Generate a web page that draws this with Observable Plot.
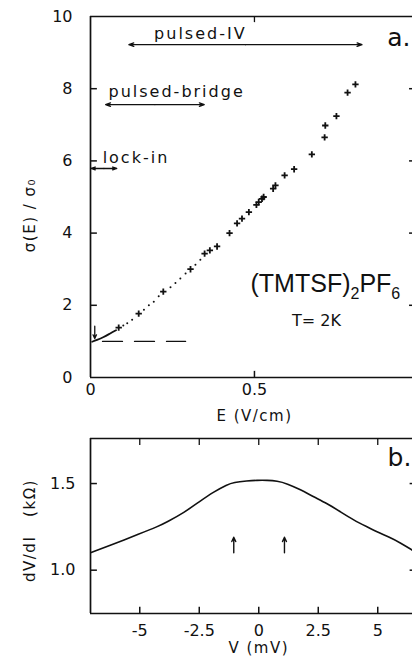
<!DOCTYPE html>
<html><head><meta charset="utf-8">
<script src="https://cdn.jsdelivr.net/npm/d3@7"></script>
<script src="https://cdn.jsdelivr.net/npm/@observablehq/plot@0.6"></script>
<style>
html,body{margin:0;padding:0;background:#fff;}
#chart svg{display:block;}
</style></head><body><div id="chart"></div>
<script>
// ---------- panel a: sigma(E)/sigma0 vs E ----------
const crossE = [0.086,0.147,0.222,0.305,0.348,0.364,0.386,0.424,0.447,0.462,0.483,0.506,0.513,0.523,0.528,0.557,0.564,0.592,0.621,0.675,0.714,0.716,0.750,0.784,0.808];
const crossS = [1.38,1.77,2.38,3.00,3.43,3.52,3.63,4.00,4.27,4.40,4.58,4.78,4.86,4.95,5.00,5.23,5.32,5.60,5.77,6.18,6.65,6.98,7.24,7.89,8.12];
const dotE = [0.100,0.112,0.127,0.163,0.178,0.193,0.208,0.244,0.259,0.274,0.290,0.320,0.335];
const dotS = [1.44,1.50,1.60,1.88,2.00,2.10,2.25,2.50,2.62,2.74,2.88,3.12,3.26];
const onsetE = [0.005,0.02,0.04,0.06,0.078];
const onsetS = [0.99,1.04,1.12,1.22,1.31];
const ohmicE = [0, 0.29];     // dashed sigma = sigma0 line
const ohmicS = [1, 1];
const rangeName = ["pulsed-IV","pulsed-bridge","lock-in"];
const rangeE1 = [0.117,0.046,0.002];
const rangeE2 = [0.828,0.347,0.080];
const rangeS = [9.22,7.56,5.79];
const aXTicks = [0, 0.5];
const aXLabels = ["0","0.5"];
const aYTicks = [0,2,4,6,8,10];
const aYLabels = ["0","2","4","6","8","10"];

// ---------- panel b: dV/dI vs V ----------
const biasV = [-7.04,-6.23,-4.97,-4.27,-3.85,-3.15,-2.45,-1.89,-1.33,-1.05,-0.49,-0.07,0.35,0.77,1.19,1.75,2.31,2.87,3.43,3.99,4.55,4.97,5.53,5.95,6.46];
const dvdi = [1.102,1.144,1.212,1.250,1.279,1.331,1.400,1.452,1.494,1.507,1.515,1.519,1.519,1.515,1.500,1.465,1.423,1.385,1.337,1.289,1.250,1.221,1.188,1.158,1.115];
const markV = [-1.05, 1.08];
const bXTicks = [-5,-2.5,0,2.5,5];
const bXLabels = ["-5","-2.5","0","2.5","5"];
const bYTicks = [1.0,1.5];
const bYLabels = ["1.0","1.5"];

const INK = "#111";
const FONT = "DejaVu Sans";
const xA = [0, 0.982], yA = [0, 10];
const xB = [-7.07, 6.46], yB = [0.75, 1.76];

const crosses = crossE.map((e,i)=>({e, s: crossS[i]}));
const dots = dotE.map((e,i)=>({e, s: dotS[i]}));
const onset = onsetE.map((e,i)=>({e, s: onsetS[i]}));
const ohmic = ohmicE.map((e,i)=>({e, s: ohmicS[i]}));
const halves = rangeName.flatMap((n,i)=>{
  const m = (rangeE1[i]+rangeE2[i])/2;
  return [{x1:m, x2:rangeE1[i], y:rangeS[i]}, {x1:m, x2:rangeE2[i], y:rangeS[i]}];
});
const labelsMid = [{t:"pulsed-IV", e:0.335, s:9.53}];
const labelsStart = [
  {t:"pulsed-bridge", e:0.055, s:7.92},
  {t:"lock-in", e:0.037, s:6.07}
];

const txt = {fontFamily: FONT, fill: INK};

const plotA = Plot.plot({
  width: 412, height: 425,
  marginLeft: 90, marginRight: 0, marginTop: 16, marginBottom: 48,
  x: {domain: xA, axis: null},
  y: {domain: yA, axis: null},
  style: {background: "white", fontFamily: FONT, color: INK, overflow: "visible"},
  marks: [
    Plot.ruleX([xA[0]], {stroke: INK, strokeWidth: 1.7}),
    Plot.ruleY(yA, {stroke: INK, strokeWidth: 1.6}),
    // inward ticks
    Plot.ruleY(aYTicks.slice(1,-1), {x1: () => xA[0], x2: () => xA[0] + 0.021, stroke: INK, strokeWidth: 1.5}),
    Plot.ruleY(aYTicks.slice(1,-1), {x1: () => 0.973, x2: () => xA[1], stroke: INK, strokeWidth: 1.5}),
    Plot.ruleX(aXTicks.slice(1), {y1: () => yA[0], y2: () => yA[0] + 0.17, stroke: INK, strokeWidth: 1.5}),
    Plot.ruleX(aXTicks.slice(1), {y1: () => yA[1], y2: () => yA[1] - 0.17, stroke: INK, strokeWidth: 1.3}),
    // tick labels
    Plot.text(aYTicks, {x: () => xA[0], y: d => d, text: (d,i) => aYLabels[i], textAnchor: "end", dx: -18, fontSize: 16, ...txt}),
    Plot.text(aXTicks, {x: d => d, y: () => yA[0], text: (d,i) => aXLabels[i], dy: 12, fontSize: 16, ...txt}),
    // axis titles
    Plot.text(["E (V/cm)"], {x: () => 0.5, y: () => yA[0], dy: 39, fontSize: 15, ...txt}),
    Plot.text(["σ(E) / σ₀"], {x: () => xA[0], y: () => 4.5, dx: -60, rotate: -90, fontSize: 15, ...txt}),
    // data
    Plot.line(ohmic, {x: "e", y: "s", stroke: INK, strokeWidth: 1.3, strokeDasharray: "20,12", strokeDashoffset: 20}),
    Plot.line(onset, {x: "e", y: "s", stroke: INK, strokeWidth: 1.8, curve: "natural"}),
    Plot.dot(dots, {x: "e", y: "s", r: 1.0, fill: INK, stroke: null}),
    Plot.dot(crosses, {x: "e", y: "s", symbol: "plus", r: 2.2, stroke: INK, strokeWidth: 1.8}),
    Plot.arrow([0], {x1: () => 0.013, x2: () => 0.013, y1: () => 1.42, y2: () => 1.08, stroke: INK, strokeWidth: 1.3, headLength: 5, headAngle: 50}),
    // measurement ranges
    Plot.arrow(halves, {x1: "x1", x2: "x2", y1: "y", y2: "y", stroke: INK, strokeWidth: 1.3, headLength: 6, headAngle: 40}),
    Plot.text(labelsMid, {x: "e", y: "s", text: "t", textAnchor: "middle", fontSize: 16, ...txt}),
    Plot.text(labelsStart, {x: "e", y: "s", text: "t", textAnchor: "start", fontSize: 16, ...txt}),
    // annotations
    Plot.text(["a."], {x: () => 0.905, y: () => 9.41, textAnchor: "start", fontSize: 25, ...txt}),
    Plot.text(["(TMTSF)2PF6"], {x: () => 0.488, y: () => 2.58, textAnchor: "start", fontSize: 25, fontFamily: "Liberation Sans", fill: INK}),
    Plot.text(["T= 2K"], {x: () => 0.689, y: () => 1.58, fontSize: 16, ...txt})
  ]
});

const bCurve = biasV.map((v,i)=>({v, r: dvdi[i]}));
const plotB = Plot.plot({
  width: 412, height: 232,
  marginLeft: 90, marginRight: 0, marginTop: 13, marginBottom: 44,
  x: {domain: xB, axis: null},
  y: {domain: yB, axis: null},
  style: {background: "white", fontFamily: FONT, color: INK, overflow: "visible"},
  marks: [
    Plot.ruleX([xB[0]], {stroke: INK, strokeWidth: 1.7}),
    Plot.ruleY(yB, {stroke: INK, strokeWidth: 1.6}),
    Plot.ruleY(bYTicks, {x1: () => xB[0], x2: () => xB[0] + 0.29, stroke: INK, strokeWidth: 1.5}),
    Plot.ruleY(bYTicks, {x1: () => xB[1] - 0.1, x2: () => xB[1], stroke: INK, strokeWidth: 1.5}),
    Plot.ruleX(bXTicks, {y1: () => yB[0], y2: () => yB[0] + 0.036, stroke: INK, strokeWidth: 1.5}),
    Plot.ruleX(bXTicks, {y1: () => yB[1], y2: () => yB[1] - 0.04, stroke: INK, strokeWidth: 1.3}),
    Plot.text(bYTicks, {x: () => xB[0], y: d => d, text: (d,i) => bYLabels[i], textAnchor: "end", dx: -15, fontSize: 16, ...txt}),
    Plot.text(bXTicks, {x: d => d, y: () => yB[0], text: (d,i) => bXLabels[i], dy: 17, fontSize: 16, ...txt}),
    Plot.text(["V (mV)"], {x: () => 0, y: () => yB[0], dy: 35, fontSize: 15, ...txt}),
    Plot.text(["dV/dI   (kΩ)"], {x: () => xB[0], y: () => 1.229, dx: -60, rotate: -90, fontSize: 15, ...txt}),
    Plot.line(bCurve, {x: "v", y: "r", stroke: INK, strokeWidth: 1.6, curve: "basis"}),
    Plot.arrow(markV, {x1: d => d, x2: d => d, y1: () => 1.10, y2: () => 1.19, stroke: INK, strokeWidth: 1.4, headLength: 5, headAngle: 50}),
    Plot.text(["b."], {x: () => 5.41, y: () => 1.645, textAnchor: "start", fontSize: 25, ...txt})
  ]
});

// typographic touches: letter spacing and sub-scripts
const spaced = new Set(["pulsed-IV","pulsed-bridge","lock-in","E (V/cm)","V (mV)","σ(E) / σ₀","dV/dI   (kΩ)"]);
for (const p of [plotA, plotB]) {
  d3.select(p).selectAll("text").each(function() {
    const c = this.textContent;
    if (spaced.has(c)) this.setAttribute("letter-spacing", c.startsWith("pulsed") || c === "lock-in" ? "2px" : "1.5px");
    if (c === "(TMTSF)2PF6") {
      const t = d3.select(this);
      this.textContent = "";
      t.append("tspan").text("(TMTSF)");
      t.append("tspan").attr("dy", 7).attr("font-size", 16).text("2");
      t.append("tspan").attr("dy", -7).text("PF");
      t.append("tspan").attr("dy", 7).attr("font-size", 16).text("6");
    }
  });
}
document.getElementById("chart").append(plotA, plotB);
</script></body></html>
